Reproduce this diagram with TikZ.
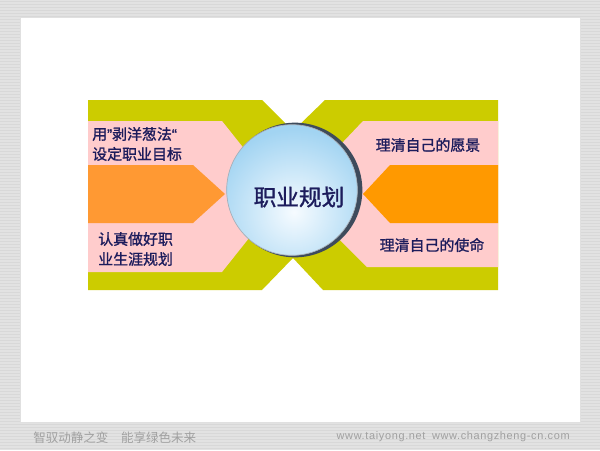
\documentclass[tikz,border=0pt]{standalone}
\usepackage{fontspec}
\setmainfont{Liberation Sans}
\newfontfamily\cjk{Noto Sans CJK SC}
\newfontfamily\cjkb{Noto Sans CJK SC}[FakeBold=1.2]
\newfontfamily\latq{Liberation Sans}[FakeBold=1.5]
\usetikzlibrary{shadings}
\definecolor{bggray}{HTML}{E2E2E2}
\definecolor{stripe}{HTML}{D8D8D8}
\definecolor{olive}{HTML}{CCCC00}
\definecolor{pinkc}{HTML}{FFCCCC}
\definecolor{orangeL}{HTML}{FF9933}
\definecolor{orangeR}{HTML}{FF9900}
\definecolor{navy}{HTML}{1C1C5C}
\definecolor{ballin}{HTML}{F6FBFF}
\definecolor{ballout}{HTML}{A2D4F2}
\definecolor{rim}{HTML}{3E4B5C}
\definecolor{foot}{HTML}{A0A0A0}
\tikzset{
  label/.style={text=navy, font=\cjkb\fontsize{11.2}{15}\selectfont, inner sep=0pt, align=left},
  footer/.style={text=foot, inner sep=0pt},
}
\begin{document}
\begin{tikzpicture}[x=0.75pt,y=-0.75pt]
\useasboundingbox (0,0) rectangle (600,450);
\fill[bggray] (0,0) rectangle (600,450);
\foreach \yy in {1,4,...,450} \draw[stripe,line width=0.3pt] (0,\yy) -- (600,\yy);
\fill[white] (20,17) rectangle (580,422);
\draw[black!12,line width=0.5pt] (20,17) rectangle (580,422);
% olive X shape
\fill[olive] (88,100) -- (262,100) -- (293,131) -- (325,100) -- (498,100) -- (498,290)
  -- (323,290) -- (293,258) -- (262,290) -- (88,290) -- cycle;
% pink arrows
\fill[pinkc] (88,121) -- (222,121) -- (265,175) -- (265,218) -- (222,272) -- (88,272) -- cycle;
\fill[pinkc] (498,121) -- (363,121) -- (325,161) -- (325,225) -- (367,267) -- (498,267) -- cycle;
% orange arrows
\fill[orangeL] (88,165) -- (193,165) -- (225,194) -- (193,223) -- (88,223) -- cycle;
\fill[orangeR] (498,165) -- (390,165) -- (363,194) -- (390,223) -- (498,223) -- cycle;
% ball
\coordinate (c) at (295,190);
\coordinate (cb) at (292,190);
\fill[rim] (c) circle[radius=50.5pt];
\begin{scope}
  \clip (cb) circle[radius=49pt];
  \fill[ballout] (cb) circle[radius=50pt];
  \shade[inner color=ballin, outer color=ballout] (294,212) circle[radius=62pt];
\end{scope}
\draw[rim!45,line width=0.5pt] (cb) circle[radius=49pt];
\node[text=navy, font=\cjkb\fontsize{17}{20}\selectfont, inner sep=0pt] (title) at (299,197) {职业规划};
% labels
\node[label, anchor=west] (l1) at (92,144) {用{\latq ”}剥洋葱法{\latq “}\\设定职业目标};
\node[label, anchor=west] (l2) at (98,249) {认真做好职\\业生涯规划};
\node[label] (r1) at (428,145) {理清自己的愿景};
\node[label] (r2) at (432,245) {理清自己的使命};
% footer
\node[footer, anchor=west, font=\cjk\fontsize{9.4}{11}\selectfont] (f1) at (33,438) {智驭动静之变\hspace{1em}能享绿色未来};
\node[footer, anchor=east, font=\fontsize{8.2}{10}\selectfont] (f2) at (570,437) {\addfontfeature{LetterSpace=6}www.taiyong.net\hspace{0.6em}www.changzheng-cn.com};
\end{tikzpicture}
\end{document}
